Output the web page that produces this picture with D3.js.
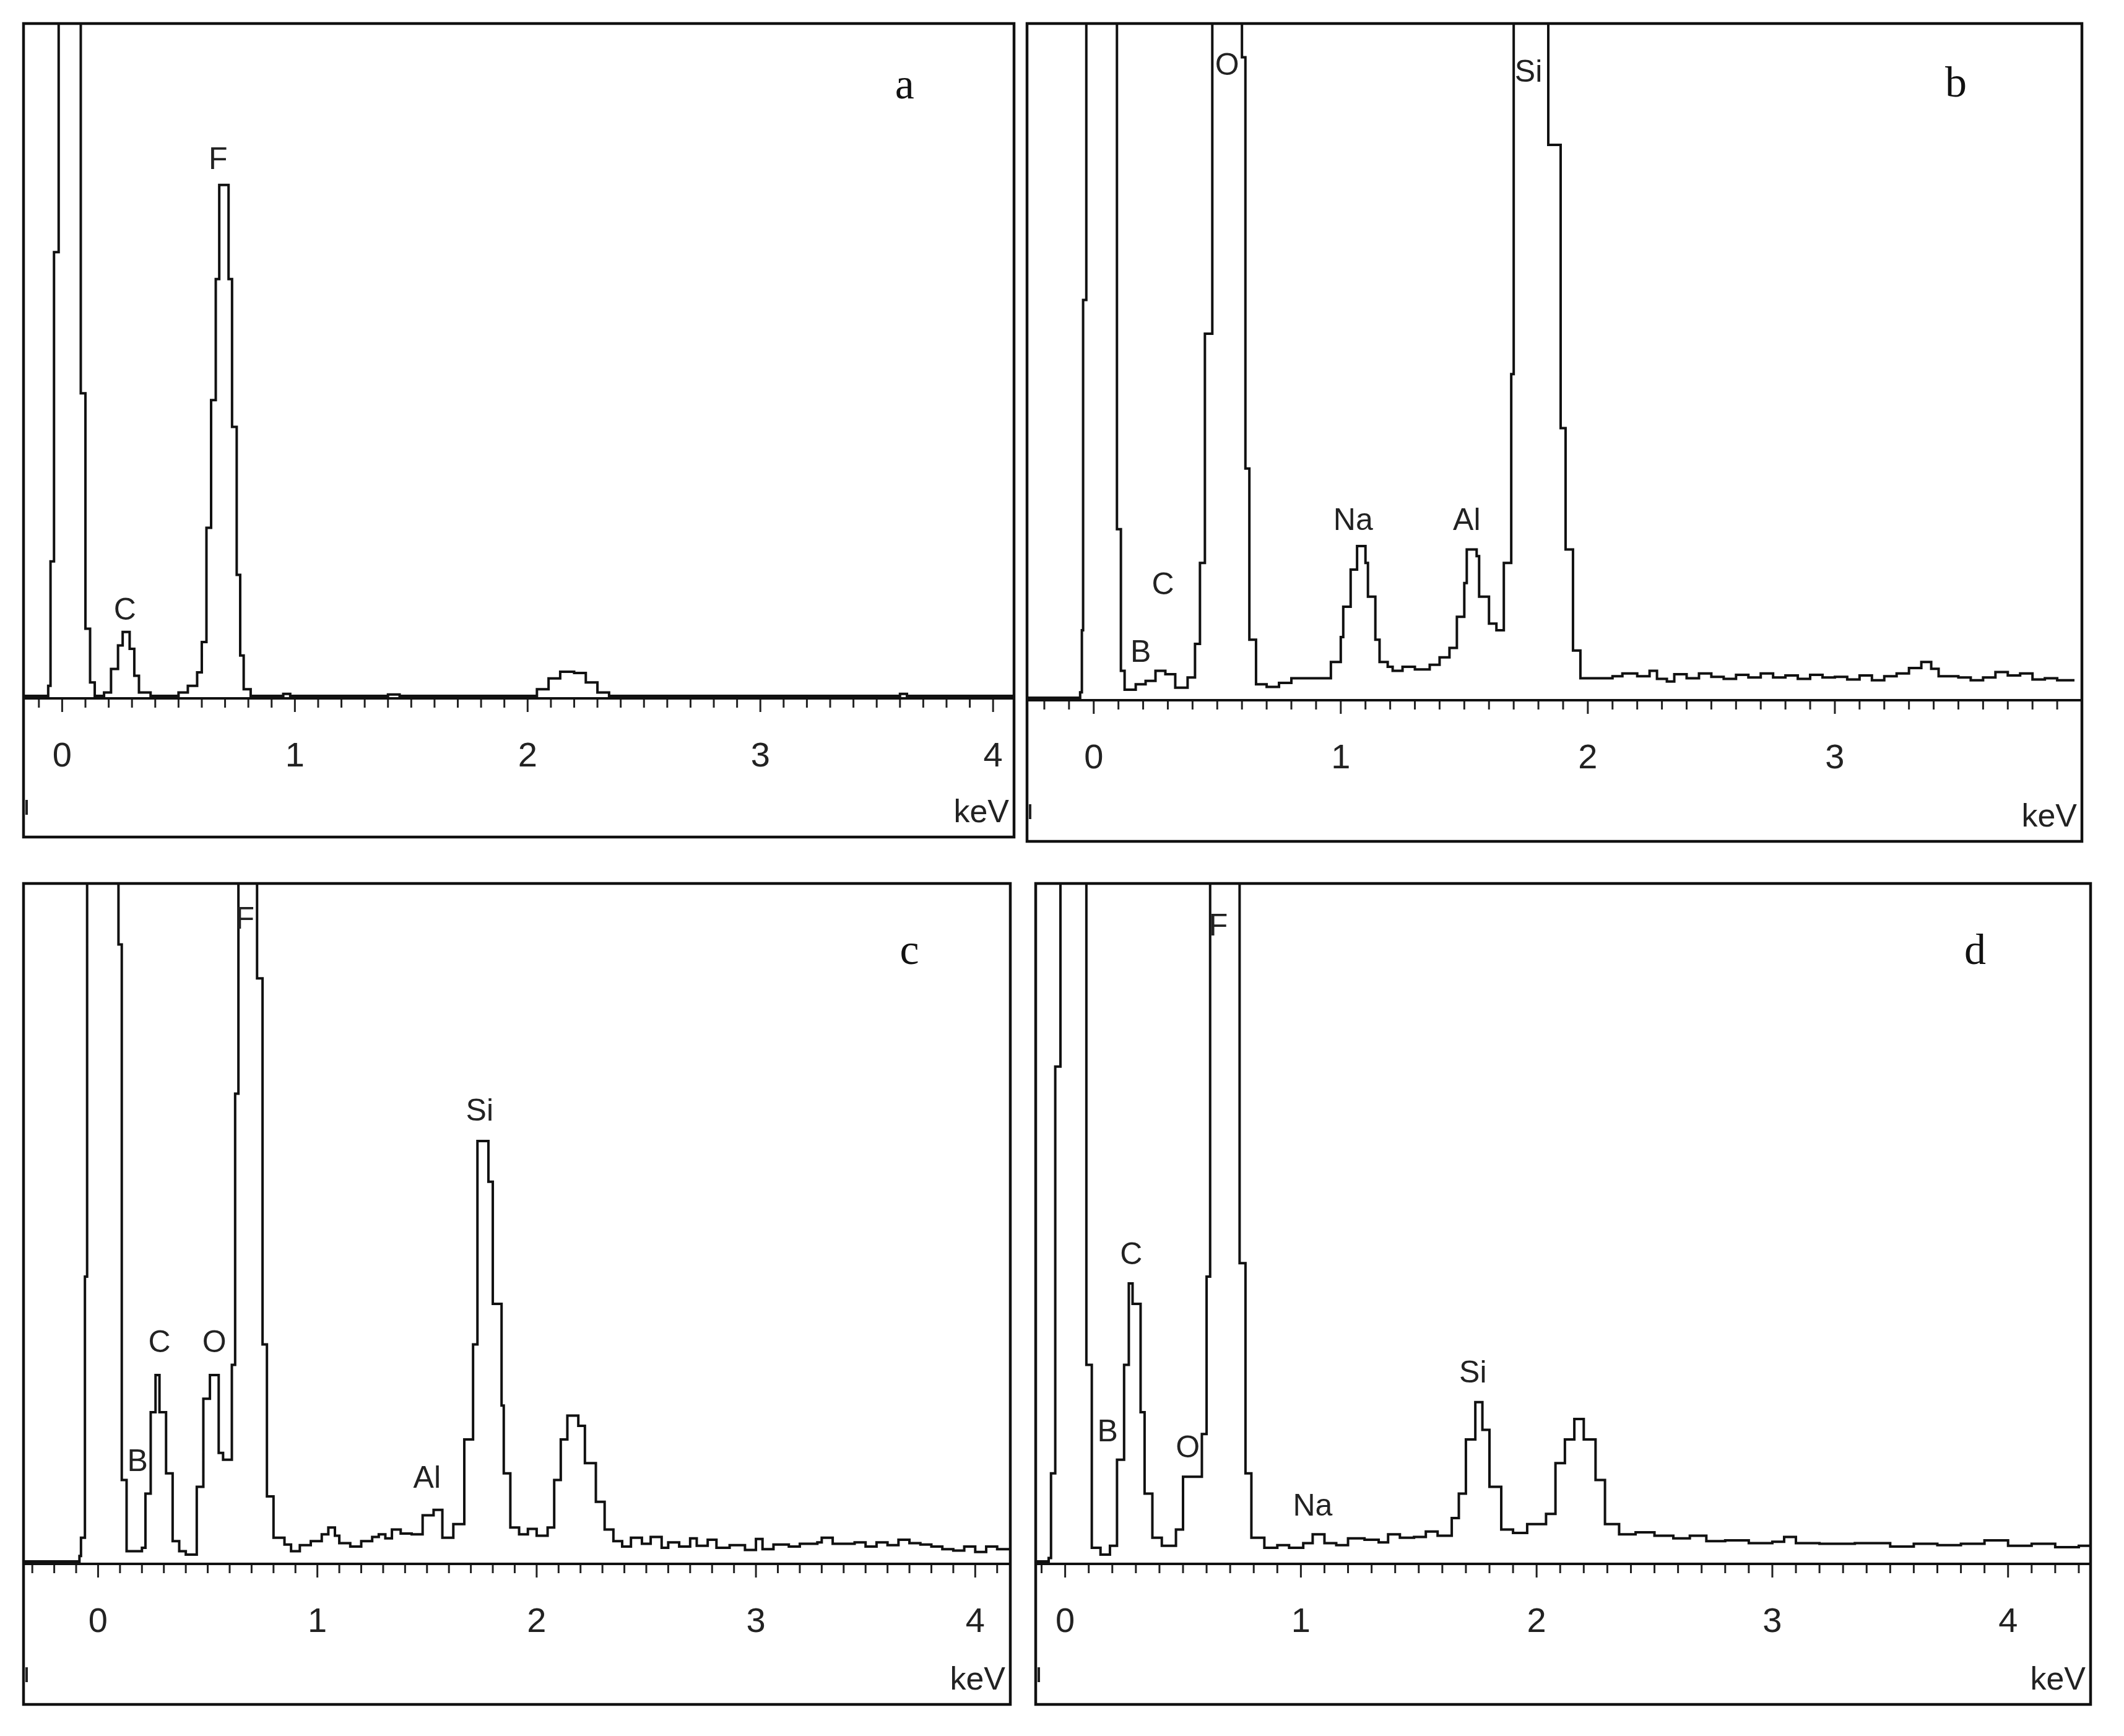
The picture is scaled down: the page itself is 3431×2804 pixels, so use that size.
<!DOCTYPE html>
<html>
<head>
<meta charset="utf-8">
<script src="https://cdn.jsdelivr.net/npm/d3@7"></script>
<style>
  body { margin: 0; background: #fff; }
  svg text { font-family: "Liberation Sans", Arial, sans-serif; }
  svg text.tag { font-family: "Liberation Serif", "DejaVu Serif", serif; }
</style>
</head>
<body>
<svg id="chart" width="3431" height="2804"></svg>
<script>
// spectra: [keV, counts as % of panel height], values above 100 are clipped by the frame
const spectrumA = [[-0.17,0],[-0.08,0],[-0.06,1.5],[-0.05,20],[-0.035,66],[-0.015,120],[0.07,120],[0.08,45],[0.1,10],[0.12,2],[0.14,0],
  [0.18,0.5],[0.21,4],[0.24,7.5],[0.26,9.5],[0.29,7],[0.31,3],[0.33,0.5],[0.38,0],[0.5,0.5],[0.54,1.5],[0.58,3.5],[0.6,8],[0.62,25],
  [0.64,44],[0.66,62],[0.675,76],[0.715,62],[0.73,40],[0.75,18],[0.765,6],[0.78,1],[0.81,0],[0.95,0.3],[0.98,0],[1.4,0.2],[1.45,0],
  [2.0,0],[2.04,1],[2.09,2.6],[2.14,3.6],[2.2,3.4],[2.25,2],[2.3,0.5],[2.35,0],[3.6,0.3],[3.63,0],[4.09,0]];
const spectrumB = [[-0.27,0],[-0.055,0.8],[-0.048,10],[-0.043,59],[-0.03,120],[0.094,25],[0.11,4],[0.125,1.2],[0.17,2],[0.21,2.5],
  [0.25,4],[0.29,3.5],[0.33,1.5],[0.38,3],[0.41,8],[0.43,20],[0.45,54],[0.48,120],[0.6,95],[0.614,34],[0.63,8.6],[0.657,2],
  [0.7,1.6],[0.75,2.2],[0.8,2.9],[0.93,2.9],[0.96,5.3],[1.0,9],[1.01,13.5],[1.04,19],[1.066,22.5],[1.1,20],[1.11,15],[1.14,8.6],
  [1.157,5.3],[1.19,4.6],[1.21,4],[1.25,4.6],[1.3,4.2],[1.36,4.9],[1.4,6],[1.44,7.4],[1.47,12],[1.5,17],[1.51,22],[1.55,21],
  [1.56,15],[1.6,11],[1.63,10],[1.66,20],[1.69,48],[1.7,120],[1.84,82],[1.89,40],[1.91,22],[1.94,7],[1.97,2.9],[2.1,3.2],
  [2.14,3.6],[2.2,3.2],[2.25,4],[2.28,2.8],[2.32,2.4],[2.35,3.5],[2.4,2.9],[2.45,3.6],[2.5,3.1],[2.55,2.8],[2.6,3.4],[2.65,3],
  [2.7,3.6],[2.75,3],[2.8,3.3],[2.85,2.8],[2.9,3.4],[2.95,3],[3.0,3.1],[3.05,2.7],[3.1,3.3],[3.15,2.6],[3.2,3.2],[3.25,3.6],
  [3.3,4.4],[3.35,5.3],[3.39,4.3],[3.42,3.2],[3.5,3.0],[3.55,2.6],[3.6,3.0],[3.65,3.8],[3.7,3.3],[3.75,3.6],[3.8,2.7],[3.85,2.9],
  [3.9,2.6],[3.97,2.6]];
const spectrumC = [[-0.34,0],[-0.085,0.8],[-0.078,3.5],[-0.06,42],[-0.05,120],[0.093,91],[0.108,12],[0.13,1.5],[0.2,2],[0.216,10],
  [0.24,22],[0.262,27.5],[0.28,22],[0.31,13],[0.34,3],[0.37,1.5],[0.4,1],[0.45,11],[0.48,24],[0.51,27.5],[0.55,16],[0.57,15],
  [0.61,29],[0.625,69],[0.64,120],[0.725,86],[0.75,32],[0.77,9.6],[0.8,3.5],[0.85,2.5],[0.88,1.5],[0.92,2.4],[0.97,3],[1.02,4],
  [1.05,5],[1.08,3.8],[1.1,2.7],[1.15,2.2],[1.2,3],[1.25,3.6],[1.28,4],[1.31,3.4],[1.34,4.7],[1.38,4.1],[1.43,4],[1.48,6.8],
  [1.53,7.6],[1.57,3.5],[1.62,5.5],[1.67,18],[1.71,32],[1.73,62],[1.78,56],[1.8,38],[1.84,23],[1.85,13],[1.88,5],[1.92,4],
  [1.96,4.8],[2.0,3.8],[2.05,5],[2.08,12],[2.11,18],[2.14,21.5],[2.19,20],[2.22,14.5],[2.27,8.8],[2.31,4.7],[2.35,3],[2.39,2.2],
  [2.43,3.5],[2.48,2.6],[2.52,3.6],[2.57,2],[2.6,2.8],[2.65,2.2],[2.7,3.4],[2.73,2.3],[2.78,3.2],[2.82,2],[2.88,2.4],[2.95,1.7],
  [3.0,3.3],[3.03,1.8],[3.08,2.5],[3.15,2.2],[3.2,2.6],[3.28,2.8],[3.3,3.5],[3.35,2.6],[3.45,2.8],[3.5,2.2],[3.55,2.8],[3.6,2.4],
  [3.65,3.2],[3.7,2.7],[3.75,2.5],[3.8,2.2],[3.85,1.8],[3.9,1.6],[3.95,2.2],[4.0,1.4],[4.05,2.2],[4.1,1.8],[4.16,2.1]];
const spectrumD = [[-0.125,0],[-0.07,0.5],[-0.06,13],[-0.042,73],[-0.02,120],[0.09,29],[0.113,2],[0.15,1],[0.19,2.3],[0.22,15],
  [0.25,29],[0.27,41],[0.286,38],[0.32,22],[0.337,10],[0.37,3.5],[0.41,2.3],[0.47,4.7],[0.5,12.5],[0.53,12.5],[0.58,18.8],
  [0.6,42],[0.615,120],[0.74,44],[0.765,13],[0.79,3.5],[0.845,2],[0.9,2.4],[0.95,2],[1.01,2.7],[1.05,4],[1.1,2.7],[1.15,2.4],
  [1.2,3.4],[1.27,3.2],[1.33,2.8],[1.37,4],[1.42,3.5],[1.48,3.6],[1.53,4.4],[1.58,3.8],[1.64,6.4],[1.67,10],[1.7,18],[1.74,23.5],
  [1.77,19.4],[1.8,11],[1.85,4.7],[1.9,4.2],[1.96,5.5],[2.04,7],[2.08,14.5],[2.12,18],[2.16,21],[2.2,18],[2.25,12],[2.29,5.5],
  [2.35,4],[2.42,4.3],[2.5,3.8],[2.58,3.4],[2.65,3.8],[2.72,3.0],[2.8,3.1],[2.9,2.7],[3.0,2.9],[3.05,3.6],[3.1,2.7],[3.2,2.6],
  [3.35,2.7],[3.5,2.2],[3.6,2.6],[3.7,2.4],[3.8,2.6],[3.9,3.1],[4.0,2.3],[4.1,2.6],[4.2,2.1],[4.3,2.3],[4.35,2.0]];

// peak labels: [text, keV, % height]
const labelsA = [["F",0.67,80],["C",0.27,13]];
const labelsB = [["O",0.54,94],["Si",1.76,93],["Na",1.05,26.5],["Al",1.51,26.5],["C",0.28,17],["B",0.19,7]];
const labelsC = [["F",0.67,95],["Si",1.74,66.7],["C",0.28,32.5],["O",0.53,32.5],["B",0.18,15],["Al",1.5,12.5]];
const labelsD = [["F",0.65,94],["C",0.28,45.5],["B",0.18,19.4],["O",0.52,17],["Na",1.05,8.4],["Si",1.73,28]];

const tickLabels = ["0","1","2","3","4"];

const panels = [
  {id:"a", data:spectrumA, labels:labelsA, left:38, right:1638, top:38, bottom:1352, axisY:1128, dom:[-0.166,4.09], tag:[3.62,90.7], ticks:5},
  {id:"b", data:spectrumB, labels:labelsB, left:1659, right:3363, top:38, bottom:1359, axisY:1131, dom:[-0.27,4.0], tag:[3.49,91], ticks:4},
  {id:"c", data:spectrumC, labels:labelsC, left:38, right:1632, top:1427, bottom:2753, axisY:2526, dom:[-0.34,4.16], tag:[3.7,90], ticks:5},
  {id:"d", data:spectrumD, labels:labelsD, left:1673, right:3377, top:1427, bottom:2753, axisY:2526, dom:[-0.125,4.35], tag:[3.86,90], ticks:5}
];

const svg = d3.select("#chart");

panels.forEach(function(p) {
  const x = d3.scaleLinear().domain(p.dom).range([p.left, p.right]);
  const y = d3.scaleLinear().domain([0, 100]).range([p.axisY - 4, p.top]);
  const g = svg.append("g");

  g.append("clipPath").attr("id", "clip" + p.id)
    .append("rect").attr("x", p.left).attr("y", p.top)
    .attr("width", p.right - p.left).attr("height", p.axisY - p.top);

  const line = d3.line().x(d => x(d[0])).y(d => y(d[1])).curve(d3.curveStepAfter);
  g.append("path").datum(p.data)
    .attr("clip-path", "url(#clip" + p.id + ")")
    .attr("d", line).attr("fill", "none").attr("stroke", "#111").attr("stroke-width", 4);

  // minor ticks every 0.1 keV
  const minor = d3.range(Math.ceil(p.dom[0] * 10), Math.floor(p.dom[1] * 10) + 1).map(v => v / 10);
  g.selectAll(".tk").data(minor).enter().append("line")
    .attr("x1", d => x(d)).attr("x2", d => x(d))
    .attr("y1", p.axisY).attr("y2", d => p.axisY + (Math.abs(d - Math.round(d)) < 1e-6 ? 22 : 15))
    .attr("stroke", "#222").attr("stroke-width", 3);

  g.append("line").attr("x1", p.left).attr("x2", p.right)
    .attr("y1", p.axisY).attr("y2", p.axisY)
    .attr("stroke", "#111").attr("stroke-width", 4);

  g.selectAll(".tl").data(tickLabels.slice(0, p.ticks)).enter().append("text")
    .attr("x", d => x(+d)).attr("y", p.axisY + 110)
    .attr("text-anchor", "middle").attr("font-size", 56).attr("fill", "#222")
    .text(d => d);

  g.append("text").attr("x", p.right - 8).attr("y", p.bottom - 24)
    .attr("text-anchor", "end").attr("font-size", 52).attr("fill", "#222").text("keV");

  g.append("line").attr("x1", p.left + 5).attr("x2", p.left + 5)
    .attr("y1", p.bottom - 60).attr("y2", p.bottom - 36).attr("stroke", "#222").attr("stroke-width", 4);

  g.selectAll(".pl").data(p.labels).enter().append("text")
    .attr("x", d => x(d[1])).attr("y", d => y(d[2]) + 18)
    .attr("text-anchor", "middle").attr("font-size", 50).attr("fill", "#222")
    .text(d => d[0]);

  g.append("text").attr("class", "tag").attr("x", x(p.tag[0])).attr("y", y(p.tag[1]) + 20)
    .attr("text-anchor", "middle").attr("font-size", 70).attr("fill", "#111")
    .text(p.id);

  g.append("rect").attr("x", p.left).attr("y", p.top)
    .attr("width", p.right - p.left).attr("height", p.bottom - p.top)
    .attr("fill", "none").attr("stroke", "#111").attr("stroke-width", 4.5);
});
</script>
</body>
</html>
